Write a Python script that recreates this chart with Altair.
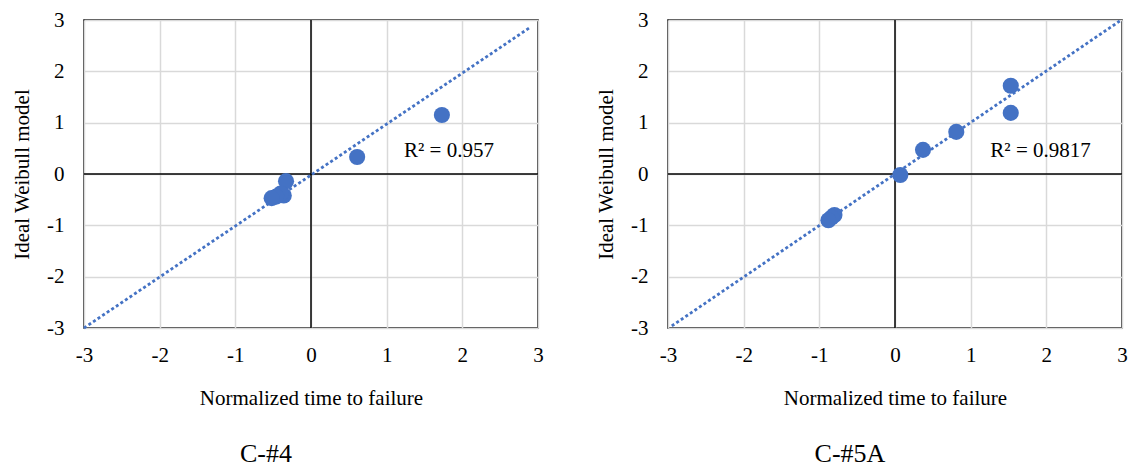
import altair as alt
import pandas as pd

FONT = "Liberation Serif"
BLUE = "#4472C4"

# ---- data ----
c4_x = [1.73, 0.61, -0.33, -0.36, -0.40, -0.46, -0.52]
c4_y = [1.15, 0.33, -0.14, -0.42, -0.38, -0.44, -0.47]
c4_trend_x = [-3.0, 2.88]
c4_trend_y = [-3.0, 2.84]
c4_r2 = "R² = 0.957"
c4_r2_pos = (1.23, 0.45)
c4_caption = "C-#4"

c5_x = [1.53, 1.53, 0.81, 0.37, 0.07, -0.80, -0.84, -0.88]
c5_y = [1.72, 1.19, 0.82, 0.47, -0.02, -0.80, -0.85, -0.90]
c5_trend_x = [-2.95, 2.97]
c5_trend_y = [-2.96, 2.98]
c5_r2 = "R² = 0.9817"
c5_r2_pos = (1.26, 0.45)
c5_caption = "C-#5A"

ticks = [-3, -2, -1, 0, 1, 2, 3]

axis_style = dict(labelFont=FONT, titleFont=FONT, labelFontSize=21, titleFontSize=21,
                  labelColor="black", titleColor="black", titleFontWeight="normal",
                  gridColor="#d9d9d9", gridWidth=1.5, labelExpr="'' + datum.value",
                  ticks=False, domain=False, grid=True, labelOverlap=False)


def panel(px, py, tx, ty, r2, r2pos, caption):
    xs = alt.Scale(domain=[-3, 3], nice=False, zero=False)
    ys = alt.Scale(domain=[-3, 3], nice=False, zero=False)
    xaxis = alt.Axis(values=ticks, title="Normalized time to failure",
                     labelPadding=16, titlePadding=22, labelFlush=False, **axis_style)
    yaxis = alt.Axis(values=ticks, title="Ideal Weibull model",
                     labelPadding=20, titlePadding=14, **axis_style)

    pts = pd.DataFrame({"x": px, "y": py})
    trend = pd.DataFrame({"x": tx, "y": ty})
    lab = pd.DataFrame({"x": [r2pos[0]], "y": [r2pos[1]], "t": [r2]})

    base_points = alt.Chart(pts).mark_circle(size=260, opacity=1, color=BLUE).encode(
        x=alt.X("x:Q", scale=xs, axis=xaxis),
        y=alt.Y("y:Q", scale=ys, axis=yaxis),
    )
    zero_v = alt.Chart(pd.DataFrame({"z": [0]})).mark_rule(color="black", strokeWidth=1.5).encode(
        x=alt.X("z:Q", scale=xs)
    )
    zero_h = alt.Chart(pd.DataFrame({"z": [0]})).mark_rule(color="black", strokeWidth=1.5).encode(
        y=alt.Y("z:Q", scale=ys)
    )
    tl = alt.Chart(trend).mark_line(color=BLUE, strokeWidth=2.8, strokeDash=[3, 2.5]).encode(
        x=alt.X("x:Q", scale=xs), y=alt.Y("y:Q", scale=ys)
    )
    txt = alt.Chart(lab).mark_text(align="left", baseline="middle", font=FONT,
                                   fontSize=21, color="black").encode(
        x=alt.X("x:Q", scale=xs), y=alt.Y("y:Q", scale=ys), text="t:N"
    )
    return alt.layer(zero_v, zero_h, tl, base_points, txt).properties(
        width=454, height=308,
        title=alt.TitleParams(caption, orient="bottom", anchor="middle", font=FONT,
                              fontSize=26, fontWeight="normal", color="black",
                              offset=33, dx=-45),
    )


left = panel(c4_x, c4_y, c4_trend_x, c4_trend_y, c4_r2, c4_r2_pos, c4_caption)
right = panel(c5_x, c5_y, c5_trend_x, c5_trend_y, c5_r2, c5_r2_pos, c5_caption)

chart = alt.hconcat(left, right, spacing=50).properties(
    padding={"left": 10, "top": 8, "right": 0, "bottom": 0},
    background="white",
).configure_view(
    stroke="black", strokeWidth=1.5
)

chart.save("out.html", embed_options={"renderer": "svg", "actions": False})
